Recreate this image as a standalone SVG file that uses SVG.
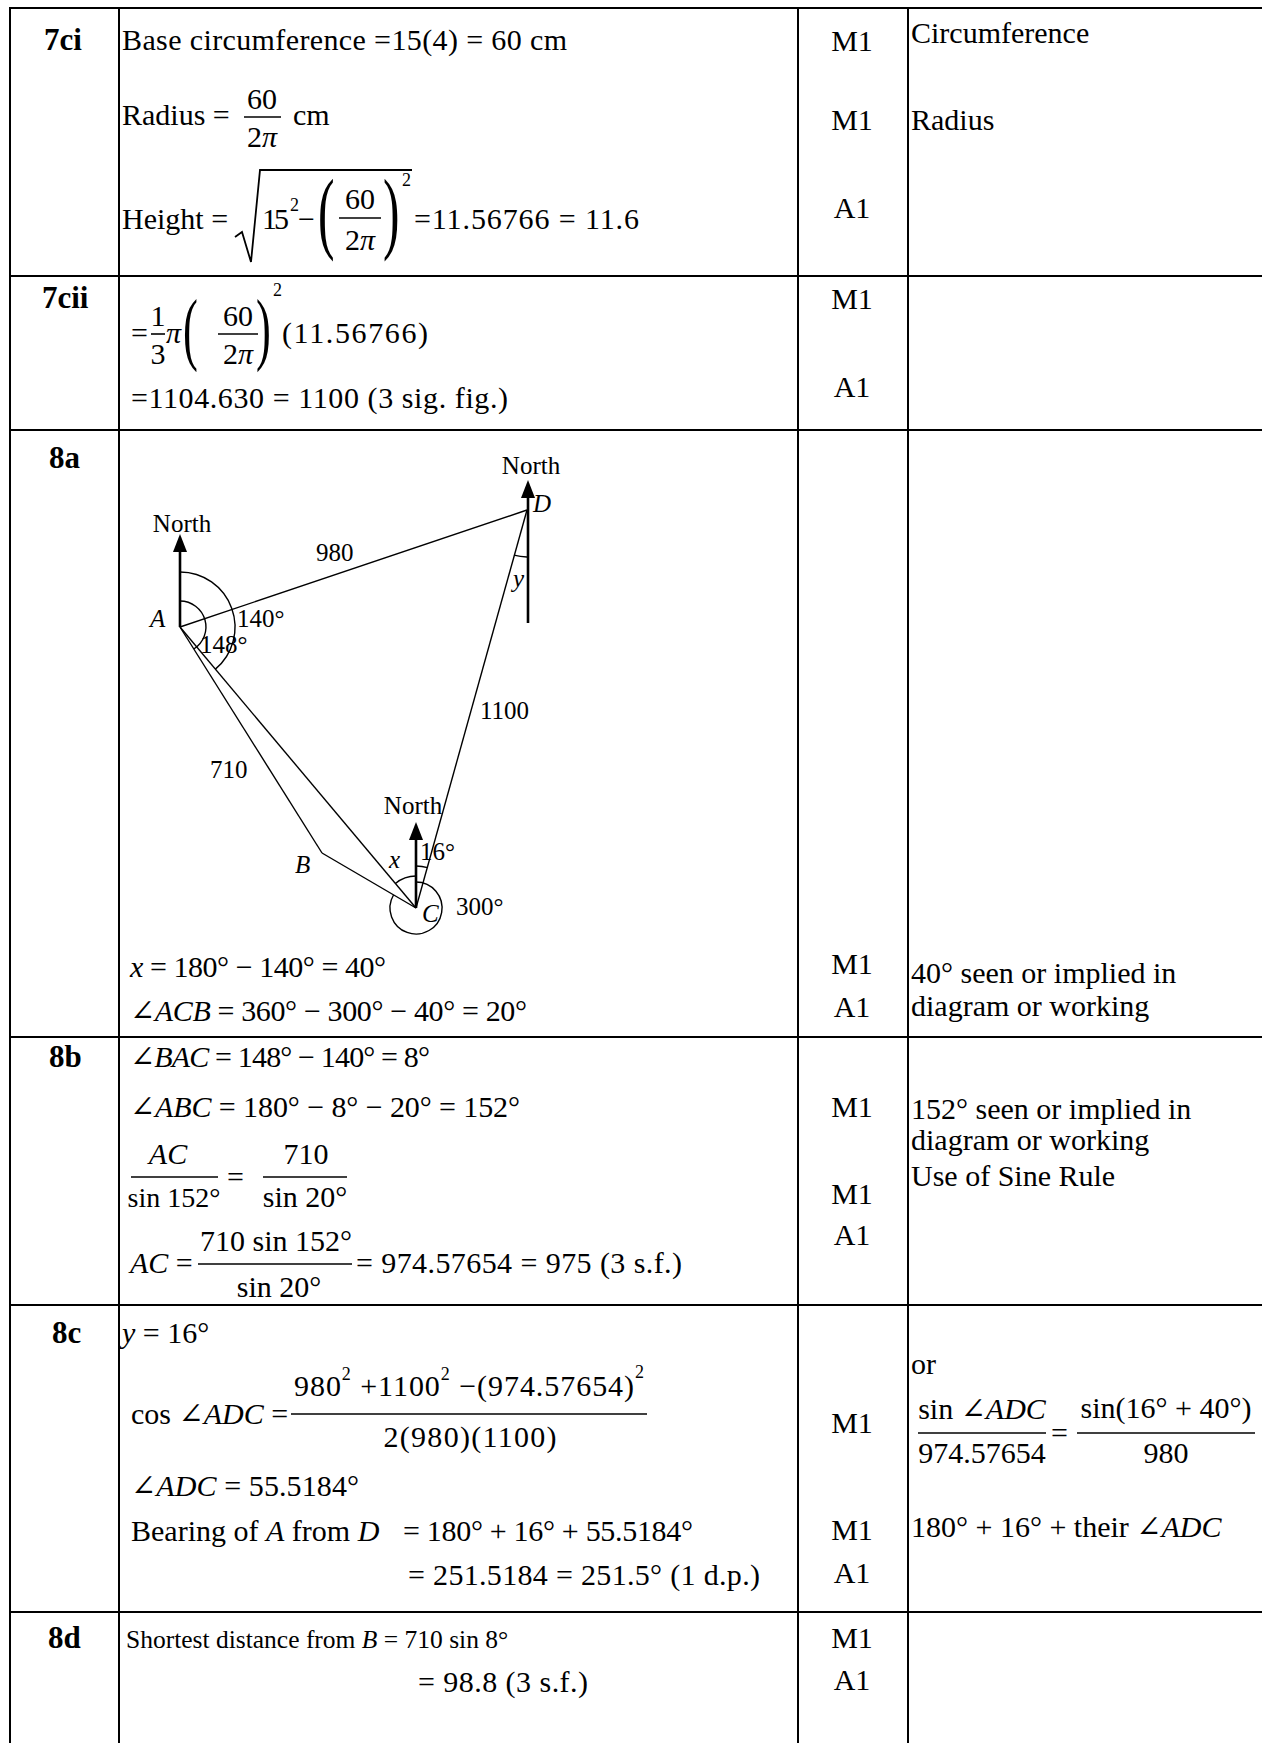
<svg xmlns="http://www.w3.org/2000/svg" width="1262" height="1743" viewBox="0 0 1262 1743">
<style>
  text { font-family: "Liberation Serif", "DejaVu Serif", serif; font-size: 30px; fill: #000; }
  .lbl { font-weight: bold; font-size: 31px; }
  .it { font-style: italic; }
  .sm { font-size: 25px; }
  .sup { font-size: 18px; }
  .mk { text-anchor: middle; }
  .c { text-anchor: middle; }
  .p90 { font-size: 90px; }
  .p81 { font-size: 81px; }
  .d8 { font-size: 25.5px; }
  .f28 { font-size: 28px; }
  .grid line { stroke: #000; stroke-width: 2; }
  .bar { stroke: #000; stroke-width: 1.6; }
  .dl { stroke: #000; stroke-width: 1.4; fill: none; }
  .nl { stroke: #000; stroke-width: 2.6; }
  .rad { stroke: #000; stroke-width: 1.8; fill: none; stroke-linejoin: miter; }
</style>
<rect width="1262" height="1743" fill="#fff"/>

<g id="grid" class="grid">
  <line x1="9" y1="8" x2="1262" y2="8"/>
  <line x1="9" y1="276" x2="1262" y2="276"/>
  <line x1="9" y1="430" x2="1262" y2="430"/>
  <line x1="9" y1="1037" x2="1262" y2="1037"/>
  <line x1="9" y1="1305" x2="1262" y2="1305"/>
  <line x1="9" y1="1612" x2="1262" y2="1612"/>
  <line x1="10" y1="7" x2="10" y2="1743"/>
  <line x1="119" y1="7" x2="119" y2="1743"/>
  <line x1="798" y1="7" x2="798" y2="1743"/>
  <line x1="908" y1="7" x2="908" y2="1743"/>
</g>

<g id="row-7ci">
  <text class="lbl" x="44" y="50">7ci</text>
  <text x="122" y="50" textLength="445">Base circumference =15(4) = 60 cm</text>
  <text x="122" y="125">Radius =</text>
  <text class="c" x="262" y="109">60</text>
  <line class="bar" x1="244" y1="117" x2="281" y2="117"/>
  <text class="c" x="262" y="147">2<tspan class="it">π</tspan></text>
  <text x="293" y="125">cm</text>
  <text x="122" y="229">Height =</text>
  <polyline class="rad" points="235,237 242,232 251,262 260,170 412,170"/>
  <text x="262" y="229" textLength="27">15</text>
  <text class="sup" x="290" y="211">2</text>
  <text x="298" y="229">−</text>
  <text class="p90" transform="translate(318,242) scale(0.55,1)">(</text>
  <text class="c" x="360" y="209">60</text>
  <line class="bar" x1="339" y1="218" x2="381" y2="218"/>
  <text class="c" x="360" y="250">2<tspan class="it">π</tspan></text>
  <text class="p90" transform="translate(383,242) scale(0.55,1)">)</text>
  <text class="sup" x="402" y="186">2</text>
  <text x="414" y="229" textLength="225">=11.56766 = 11.6</text>
  <text class="mk" x="852" y="51">M1</text>
  <text class="mk" x="852" y="130">M1</text>
  <text class="mk" x="852" y="218">A1</text>
  <text x="911" y="43">Circumference</text>
  <text x="911" y="130">Radius</text>
</g>

<g id="row-7cii">
  <text class="lbl" x="42" y="308">7cii</text>
  <text x="131" y="343">=</text>
  <text class="c" x="158" y="326">1</text>
  <line class="bar" x1="151" y1="334" x2="165" y2="334"/>
  <text class="c" x="158" y="364">3</text>
  <text class="it" x="166" y="343">π</text>
  <text class="p81" transform="translate(183,355) scale(0.55,1)">(</text>
  <text class="c" x="238" y="326">60</text>
  <line class="bar" x1="218" y1="334" x2="258" y2="334"/>
  <text class="c" x="238" y="364">2<tspan class="it">π</tspan></text>
  <text class="p81" transform="translate(256,355) scale(0.55,1)">)</text>
  <text class="sup" x="273" y="296">2</text>
  <text x="282" y="343" textLength="146">(11.56766)</text>
  <text x="131" y="408" textLength="377">=1104.630 = 1100 (3 sig. fig.)</text>
  <text class="mk" x="852" y="309">M1</text>
  <text class="mk" x="852" y="397">A1</text>
</g>

<g id="row-8a">
  <text class="lbl" x="49" y="468">8a</text>
  <g id="diagram-8a">
    <g id="connectors">
      <line class="dl" x1="180" y1="627" x2="527" y2="510"/>
      <line class="dl" x1="180" y1="627" x2="322" y2="853"/>
      <line class="dl" x1="322" y1="853" x2="416" y2="908"/>
      <line class="dl" x1="180" y1="627" x2="416" y2="908"/>
      <line class="dl" x1="527" y1="510" x2="416" y2="908"/>
    </g>
    <g id="node-A">
      <line class="nl" x1="180" y1="627" x2="180" y2="548"/>
      <polygon points="180,534 173,552 187,552" fill="#000"/>
      <text class="sm c" x="182" y="532">North</text>
      <text class="sm it" x="150" y="627">A</text>
      <path class="dl" d="M180,572 A55,55 0 0 1 215.4,669.1"/>
      <path class="dl" d="M180,601 A26,26 0 0 1 193.8,649"/>
      <text class="sm" x="237" y="627">140°</text>
      <text class="sm" x="200" y="653">148°</text>
      <text class="sm" x="316" y="561">980</text>
      <text class="sm" x="210" y="778">710</text>
    </g>
    <g id="node-D">
      <line class="nl" x1="528" y1="623" x2="528" y2="494"/>
      <polygon points="528,480 521,498 535,498" fill="#000"/>
      <text class="sm c" x="531" y="474">North</text>
      <text class="sm it" x="533" y="512">D</text>
      <path class="dl" d="M527,557 A47,47 0 0 1 514,555.2"/>
      <text class="sm it" x="513" y="587">y</text>
      <text class="sm" x="480" y="719">1100</text>
    </g>
    <g id="node-B">
      <text class="sm it" x="295" y="873">B</text>
    </g>
    <g id="node-C">
      <line class="nl" x1="416" y1="908" x2="416" y2="836"/>
      <polygon points="416,822 409,840 423,840" fill="#000"/>
      <text class="sm c" x="413" y="814">North</text>
      <path class="dl" d="M416,882 A26,26 0 1 1 393.5,895"/>
      <path class="dl" d="M395.4,883.5 A32,32 0 0 1 416,876"/>
      <path class="dl" d="M416,866 A42,42 0 0 1 427.6,867.6"/>
      <text class="sm it" x="389" y="868">x</text>
      <text class="sm" x="420" y="860">16°</text>
      <text class="sm it" x="422" y="922">C</text>
      <text class="sm" x="456" y="915">300°</text>
    </g>
  </g>
  <text x="130" y="977" textLength="256"><tspan class="it">x</tspan> = 180° − 140° = 40°</text>
  <text x="130" y="1021" textLength="397"><tspan class="it">∠ACB</tspan> = 360° − 300° − 40° = 20°</text>
  <text class="mk" x="852" y="974">M1</text>
  <text class="mk" x="852" y="1017">A1</text>
  <text x="911" y="983">40° seen or implied in</text>
  <text x="911" y="1016">diagram or working</text>
</g>

<g id="row-8b">
  <text class="lbl" x="49" y="1067">8b</text>
  <text x="130" y="1067" textLength="300"><tspan class="it">∠BAC</tspan> = 148° − 140° = 8°</text>
  <text x="130" y="1117" textLength="390"><tspan class="it">∠ABC</tspan> = 180° − 8° − 20° = 152°</text>
  <text class="c it" x="168" y="1164">AC</text>
  <line class="bar" x1="131" y1="1177" x2="218" y2="1177"/>
  <text class="c f28" x="174" y="1207">sin 152°</text>
  <text x="227" y="1187">=</text>
  <text class="c" x="306" y="1164">710</text>
  <line class="bar" x1="263" y1="1177" x2="347" y2="1177"/>
  <text class="c" x="305" y="1207">sin 20°</text>
  <text x="130" y="1273"><tspan class="it">AC</tspan> =</text>
  <text class="c" x="276" y="1251">710 sin 152°</text>
  <line class="bar" x1="198" y1="1264" x2="352" y2="1264"/>
  <text class="c" x="279" y="1297">sin 20°</text>
  <text x="356" y="1273" textLength="326">= 974.57654 = 975 (3 s.f.)</text>
  <text class="mk" x="852" y="1117">M1</text>
  <text class="mk" x="852" y="1204">M1</text>
  <text class="mk" x="852" y="1245">A1</text>
  <text x="911" y="1119">152° seen or implied in</text>
  <text x="911" y="1150">diagram or working</text>
  <text x="911" y="1186">Use of Sine Rule</text>
</g>

<g id="row-8c">
  <text class="lbl" x="52" y="1343">8c</text>
  <text x="122" y="1343"><tspan class="it">y</tspan> = 16°</text>
  <text x="131" y="1424">cos <tspan class="it">∠ADC</tspan> =</text>
  <text x="294" y="1396" textLength="350">980<tspan class="sup" dy="-16">2</tspan><tspan dy="16"> +1100</tspan><tspan class="sup" dy="-16">2</tspan><tspan dy="16"> −(974.57654)</tspan><tspan class="sup" dy="-18">2</tspan></text>
  <line class="bar" x1="291" y1="1414" x2="647" y2="1414"/>
  <text class="c" x="470" y="1447" textLength="173">2(980)(1100)</text>
  <text x="131" y="1496" textLength="228"><tspan class="it">∠ADC</tspan> = 55.5184°</text>
  <text x="131" y="1541">Bearing of <tspan class="it">A</tspan> from <tspan class="it">D</tspan></text>
  <text x="403" y="1541" textLength="290">= 180° + 16° + 55.5184°</text>
  <text x="408" y="1585" textLength="352">= 251.5184 = 251.5° (1 d.p.)</text>
  <text class="mk" x="852" y="1433">M1</text>
  <text class="mk" x="852" y="1540">M1</text>
  <text class="mk" x="852" y="1583">A1</text>
  <text x="911" y="1374">or</text>
  <text class="c" x="982" y="1419">sin <tspan class="it">∠ADC</tspan></text>
  <line class="bar" x1="918" y1="1433" x2="1046" y2="1433"/>
  <text class="c" x="982" y="1463">974.57654</text>
  <text x="1051" y="1443">=</text>
  <text class="c" x="1166" y="1418">sin(16° + 40°)</text>
  <line class="bar" x1="1077" y1="1433" x2="1255" y2="1433"/>
  <text class="c" x="1166" y="1463">980</text>
  <text x="911" y="1537">180° + 16° + their <tspan class="it">∠ADC</tspan></text>
</g>

<g id="row-8d">
  <text class="lbl" x="48" y="1648">8d</text>
  <text class="d8" x="126" y="1648">Shortest distance from <tspan class="it">B</tspan> = 710 sin 8°</text>
  <text x="418" y="1692" textLength="170">= 98.8 (3 s.f.)</text>
  <text class="mk" x="852" y="1648">M1</text>
  <text class="mk" x="852" y="1690">A1</text>
</g>
</svg>
